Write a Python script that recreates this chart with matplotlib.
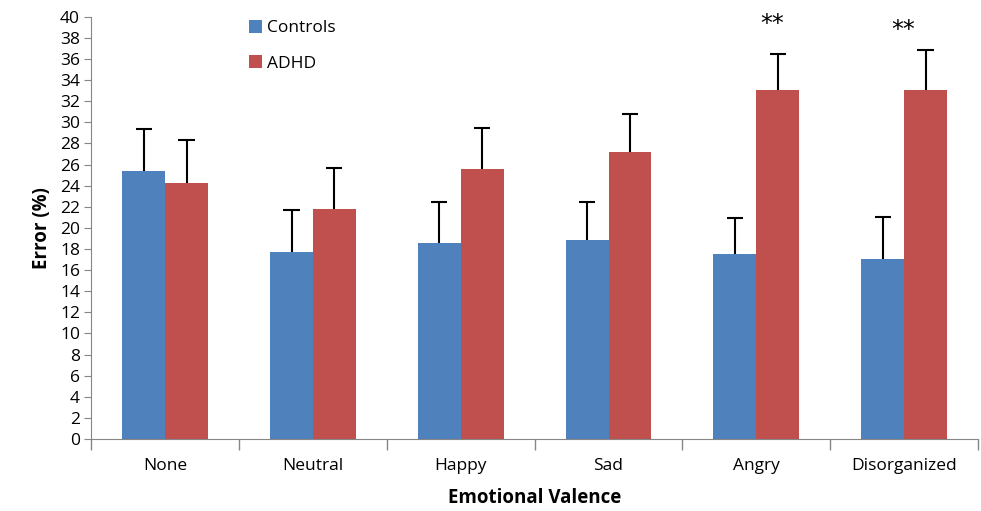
import numpy as np
import matplotlib
import matplotlib.pyplot as plt

matplotlib.use("Agg")
plt.rcParams['font.family'] = ['Open Sans', 'DejaVu Sans']

categories = ['None', 'Neutral', 'Happy', 'Sad', 'Angry', 'Disorganized']
controls = [25.4, 17.7, 18.6, 18.9, 17.5, 17.1]
controls_err = [4.0, 4.0, 3.9, 3.6, 3.4, 3.9]
adhd = [24.3, 21.8, 25.6, 27.2, 33.1, 33.1]
adhd_err = [4.0, 3.9, 3.9, 3.6, 3.4, 3.8]
marks = ['', '', '', '', '**', '**']
mark_y = [0, 0, 0, 0, 39.3, 38.8]

blue = '#4f81bd'
red = '#c0504d'

fig = plt.figure(figsize=(9.81, 5.11), dpi=100)
ax = fig.add_axes([0.093, 0.141, 0.904, 0.826])

x = np.arange(len(categories))
w = 0.29
cap = 0.055
ax.bar(x - w / 2, controls, w, color=blue, label='Controls', zorder=2)
ax.bar(x + w / 2, adhd, w, color=red, label='ADHD', zorder=2)

# upper-only error bars, no cap at the bar top
for xs, vals, errs in [(x - w / 2, controls, controls_err), (x + w / 2, adhd, adhd_err)]:
    tops = np.array(vals) + np.array(errs)
    ax.vlines(xs, vals, tops, color='black', lw=1.5, zorder=3)
    ax.hlines(tops, xs - cap, xs + cap, color='black', lw=1.5, zorder=3)

offsets = [0, 0, 0, 0, -0.035, -0.15]
for i, m in enumerate(marks):
    if m:
        ax.text(x[i] + w / 2 + offsets[i], mark_y[i], m, ha='center', va='center',
                fontsize=17, fontfamily='DejaVu Sans')

ax.set_xlim(-0.5, len(categories) - 0.5)
ax.set_ylim(0, 40)
ax.set_yticks(np.arange(0, 41, 2))
ax.set_xticks(np.arange(-0.5, len(categories), 1))
ax.set_xticklabels([])
ax.set_xticks(x, minor=True)
ax.set_xticklabels(categories, minor=True)
ax.tick_params(axis='x', which='major', length=8, color='#868686', width=1)
ax.tick_params(axis='x', which='minor', length=0, labelsize=12.5, pad=14)
ax.tick_params(axis='y', length=5, color='#868686', labelsize=12.5, pad=3)

for s in ['top', 'right']:
    ax.spines[s].set_visible(False)
for s in ['left', 'bottom']:
    ax.spines[s].set_color('#868686')

ax.set_xlabel('Emotional Valence', fontsize=13.5, fontweight='bold', labelpad=10)
ax.set_ylabel('Error (%)', fontsize=13.5, fontweight='bold', labelpad=6)

ax.legend(loc='upper left', bbox_to_anchor=(0.16, 1.03), frameon=False,
          fontsize=12.5, labelspacing=1.1, handlelength=0.75, handleheight=0.75,
          handletextpad=0.3)

fig.savefig('out.png', dpi=100)
